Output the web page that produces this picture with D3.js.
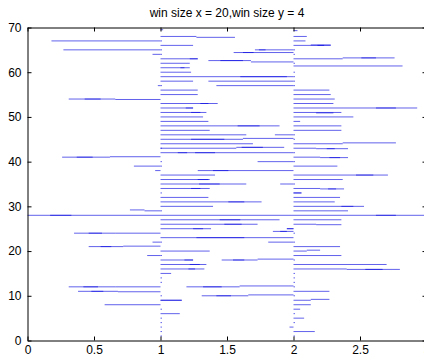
<!DOCTYPE html>
<html>
<head>
<meta charset="utf-8">
<script src="https://cdn.jsdelivr.net/npm/d3@7"></script>
<style>
  body { margin: 0; background: #fff; }
  text { font-family: "Liberation Sans", Arial, sans-serif; }
</style>
</head>
<body>
<script>
// segments as [y, x0, x1]
let leftSegs = [
  [67, 0.18, 1.0], [65, 0.27, 1.0], [64, 0.94, 1.0], [57, 0.98, 1.0],
  [54, 0.31, 0.66], [54, 0.43, 0.55], [53.9, 0.66, 1.0],
  [41, 0.26, 0.62], [41, 0.37, 0.49], [41.1, 0.62, 1.0],
  [39, 0.80, 1.0], [38, 0.96, 1.0],
  [29.2, 0.77, 0.88], [29, 0.88, 1.0],
  [28, 0.0, 3.0], [28, 0.17, 0.33],
  [24, 0.35, 0.66], [24, 0.46, 0.56], [24, 0.66, 1.0],
  [22, 0.94, 1.0],
  [21, 0.46, 0.72], [21, 0.55, 0.63], [21.1, 0.72, 1.0],
  [19, 0.90, 1.0],
  [12, 0.31, 0.66], [12, 0.42, 0.53], [12, 0.66, 1.0],
  [11, 0.38, 0.68], [11, 0.48, 0.57], [10.9, 0.68, 1.0],
  [8, 0.58, 1.0]
]

let midSegs = [
  [69.5, 1.0, 1.02],
  [68, 1.0, 1.27], [67.8, 1.27, 1.56],
  [66, 1.0, 1.245],
  [65, 1.71, 2.0], [65, 1.74, 1.79],
  [64.4, 1.55, 2.0], [64.4, 1.62, 1.70],
  [63, 1.0, 1.28], [63, 1.22, 1.28],
  [62.6, 1.36, 1.68], [62.6, 1.45, 1.62], [62.3, 1.68, 2.0],
  [62, 1.0, 1.22],
  [61, 1.0, 1.22], [61, 1.15, 1.18],
  [60, 1.0, 1.23],
  [59, 1.0, 2.0], [59, 1.6, 1.95],
  [58, 1.0, 1.245], [58, 1.36, 2.0],
  [57, 1.42, 2.0],
  [56, 1.0, 1.28], [55, 1.0, 1.28],
  [53, 1.0, 1.43], [53, 1.3, 1.36],
  [52, 1.0, 1.245], [52, 1.19, 1.245],
  [51, 1.0, 1.345], [51, 1.23, 1.3],
  [50, 1.0, 1.32], [49, 1.0, 1.36],
  [48, 1.0, 1.895], [48, 1.58, 1.745],
  [47, 1.0, 1.37],
  [46, 1.0, 1.645], [46, 1.86, 2.0],
  [45, 1.0, 1.62], [45, 1.23, 1.48], [45.2, 1.62, 2.0],
  [44, 1.0, 1.695],
  [43, 1.0, 1.57], [43.2, 1.57, 1.93], [43.2, 1.61, 1.77],
  [42, 1.0, 2.0], [42, 1.13, 1.2], [42, 1.26, 1.41],
  [40, 1.73, 2.0],
  [38, 1.28, 2.0], [38, 1.395, 1.51],
  [37, 1.0, 1.41],
  [36, 1.0, 1.37], [36, 1.28, 1.36],
  [35, 1.0, 1.645], [35, 1.29, 1.445], [35, 1.9, 2.0],
  [34, 1.0, 1.37], [34, 1.23, 1.3],
  [32, 1.0, 1.36],
  [31, 1.0, 1.76], [31, 1.51, 1.63],
  [30, 1.0, 1.395],
  [27, 1.0, 1.895], [27, 1.445, 1.6],
  [26, 1.0, 1.73], [26, 1.48, 1.61],
  [25, 1.0, 1.38], [25, 1.245, 1.32],
  [24.4, 1.845, 2.0], [24.4, 1.9, 1.95],
  [23, 1.0, 2.0], [23, 1.27, 1.63],
  [22, 1.81, 2.0],
  [20, 1.0, 1.37],
  [18, 1.0, 1.245], [18, 1.18, 1.245], [18, 1.46, 1.73], [18, 1.545, 1.63], [18.2, 1.73, 2.0],
  [17, 1.0, 1.345], [17, 1.22, 1.295],
  [16, 1.0, 1.33], [16, 1.21, 1.26],
  [15, 1.0, 1.08],
  [12, 1.195, 1.595], [12, 1.32, 1.46], [12.2, 1.595, 2.0],
  [10, 1.31, 1.66], [10, 1.42, 1.53], [10.2, 1.66, 2.0],
  [9, 1.0, 1.16], [9, 1.0, 1.16],
  [6, 1.0, 1.145]
]

let rightSegs = [
  [69.3, 2.0, 2.03],
  [68, 2.0, 2.1], [67, 2.0, 2.09],
  [66, 2.0, 2.28], [66.1, 2.13, 2.28], [66, 2.18, 2.23],
  [63, 2.0, 2.37], [63.2, 2.37, 2.76], [63.2, 2.51, 2.62],
  [61.4, 2.0, 2.82],
  [56, 2.0, 2.27], [55, 2.0, 2.28], [54, 2.0, 2.31], [53, 2.0, 2.3],
  [52, 2.0, 2.93], [52, 2.62, 2.77],
  [51, 2.0, 2.36], [50.9, 2.17, 2.3],
  [50, 2.0, 2.45], [49, 2.0, 2.05],
  [48, 2.0, 2.36], [47, 2.0, 2.36],
  [44, 2.0, 2.37], [44.2, 2.37, 2.77],
  [43, 2.0, 2.17], [42.9, 2.17, 2.41], [42.9, 2.25, 2.31],
  [41, 2.0, 2.2], [40.9, 2.2, 2.41], [40.9, 2.27, 2.35],
  [39, 2.0, 2.33],
  [37, 2.0, 2.71], [37, 2.47, 2.6],
  [36, 2.0, 2.37],
  [34, 2.0, 2.2], [33.9, 2.2, 2.38], [33.9, 2.26, 2.32],
  [33, 2.0, 2.06], [33, 2.0, 2.06],
  [32, 2.0, 2.35], [31, 2.0, 2.31],
  [30, 2.0, 2.53], [30, 2.36, 2.45],
  [29, 2.0, 2.41],
  [28, 2.62, 2.77],
  [27, 2.0, 2.36],
  [26, 2.0, 2.17], [25.9, 2.17, 2.36],
  [25, 1.95, 2.0], [25, 1.95, 2.0],
  [21, 2.0, 2.35],
  [20, 2.0, 2.1], [20.2, 2.1, 2.2],
  [19, 2.0, 2.36],
  [17, 2.0, 2.7],
  [16, 2.0, 2.4], [15.9, 2.4, 2.8], [15.9, 2.54, 2.67],
  [11, 2.0, 2.27],
  [9, 2.0, 2.13], [9.2, 2.13, 2.27],
  [8, 2.0, 2.13], [7, 2.0, 2.05], [5, 2.0, 2.08],
  [3, 1.97, 2.0], [2, 2.0, 2.16]
]

// zero-length starts that show as dots along x = 1 and x = 2
let dotsAt1 = [1, 2, 3, 4, 5, 7, 10, 13, 14, 19, 22, 29, 33, 39, 40, 43, 57, 64, 65, 67]
let dotsAt2 = [1, 4, 6, 10, 12, 13, 14, 15, 18, 22, 24, 35, 40, 42, 45, 46, 57, 58, 59, 60, 62, 64, 65]

let xTicks = [0, 0.5, 1, 1.5, 2, 2.5, 3]
let yTicks = [0, 10, 20, 30, 40, 50, 60, 70]
let title = 'win size x = 20,win size y = 4'

let width = 424
let height = 356

let x = d3.scaleLinear().domain([0, 3]).range([27.5, 426.5])
let y = d3.scaleLinear().domain([0, 70]).range([340.5, 27.5])

let svg = d3.select('body').append('svg').attr('width', width).attr('height', height)

// data lines
let allSegs = leftSegs.concat(midSegs, rightSegs)
svg.append('g')
  .selectAll('line')
  .data(allSegs)
  .enter()
  .append('line')
  .attr('x1', d => x(d[1]))
  .attr('x2', d => x(d[2]))
  .attr('y1', d => y(d[0]))
  .attr('y2', d => y(d[0]))
  .attr('stroke', '#0000e0')
  .attr('stroke-opacity', 0.62)
  .attr('stroke-width', 1)

let dots = dotsAt1.map(v => [v, 1]).concat(dotsAt2.map(v => [v, 2]))
svg.append('g')
  .selectAll('line')
  .data(dots)
  .enter()
  .append('line')
  .attr('x1', d => x(d[1]))
  .attr('x2', d => x(d[1]) + 1.5)
  .attr('y1', d => y(d[0]))
  .attr('y2', d => y(d[0]))
  .attr('stroke', '#0000e0')
  .attr('stroke-opacity', 0.62)

// axes, ticks pointing inward like matlab
let fmt = d => String(d)
svg.append('g').attr('transform', `translate(0,${y(0)})`)
  .call(d3.axisBottom(x).tickValues(xTicks).tickFormat(fmt).tickSizeInner(-4).tickSizeOuter(0).tickPadding(5))
svg.append('g').attr('transform', `translate(0,${y(70)})`)
  .call(d3.axisTop(x).tickValues(xTicks).tickFormat('').tickSizeInner(-4).tickSizeOuter(0))
svg.append('g').attr('transform', `translate(${x(0)},0)`)
  .call(d3.axisLeft(y).tickValues(yTicks).tickFormat(fmt).tickSizeInner(-4).tickSizeOuter(0).tickPadding(6))
svg.append('g').attr('transform', `translate(${x(3)},0)`)
  .call(d3.axisRight(y).tickValues(yTicks).tickFormat('').tickSizeInner(-4).tickSizeOuter(0))

svg.selectAll('.tick text')
  .attr('font-family', '"Liberation Sans", Arial, sans-serif')
  .attr('font-size', 12)
  .attr('fill', '#000')
svg.selectAll('.domain, .tick line').attr('stroke', '#000')

svg.append('text')
  .attr('x', (x(0) + x(3)) / 2)
  .attr('y', 17)
  .attr('text-anchor', 'middle')
  .attr('font-size', 12)
  .text(title)
</script>
</body>
</html>
